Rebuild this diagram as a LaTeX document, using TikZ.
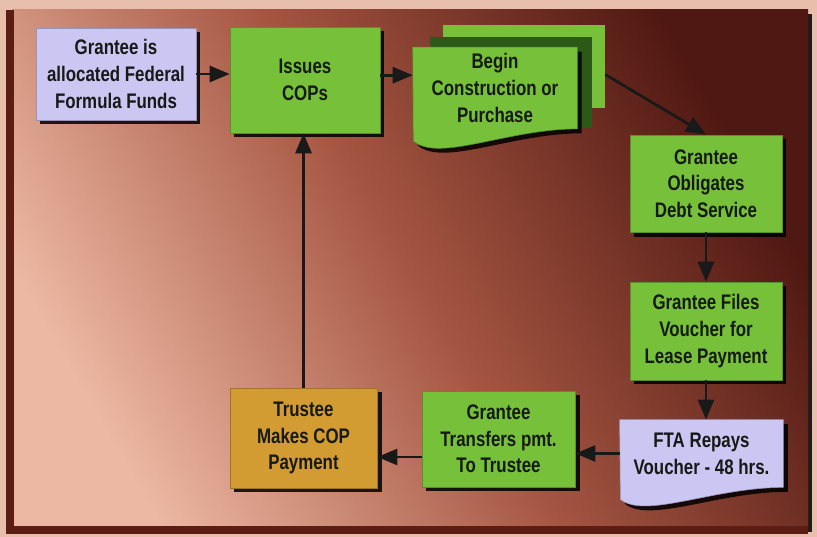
\documentclass[tikz,border=0pt]{standalone}
\usepackage{fontspec}
\setmainfont[FakeStretch=0.8]{Liberation Sans}
\usepackage{tikz}
\usetikzlibrary{positioning,arrows.meta,shadows,backgrounds}

\definecolor{boxGreen}{RGB}{118,192,58}
\definecolor{boxLilac}{RGB}{204,198,242}
\definecolor{boxGold}{RGB}{210,156,50}
\definecolor{pageDark}{RGB}{44,88,24}
\definecolor{textDark}{RGB}{22,26,22}
\definecolor{panelLight}{RGB}{236,184,163}
\definecolor{panelMid}{RGB}{165,86,66}
\definecolor{panelDark}{RGB}{80,24,18}
\definecolor{frameLight}{RGB}{232,190,172}
\definecolor{frameDark}{RGB}{92,30,20}

\pgfdeclarelayer{background}
\pgfdeclarelayer{docs}
\pgfsetlayers{background,docs,main}

\begin{document}
\begin{tikzpicture}[
  x=0.025cm, y=-0.025cm,
  font=\fontsize{15}{19}\selectfont\bfseries,
  shade/.style={drop shadow={shadow xshift=1.1mm, shadow yshift=-1.1mm,
               fill=black, opacity=0.85}},
  box/.style={draw=#1!75!black, fill=#1, align=center, text=textDark,
              inner sep=2pt, shade},
  doctext/.style={align=center, text=textDark, inner sep=2pt},
  arr/.style={-{Triangle[length=5mm,width=4mm]}, line width=2pt, black!90},
]
\node[box=boxLilac, minimum width=4.0cm, minimum height=2.3cm] (grantee) at (116,74)
  {Grantee is\\allocated Federal\\Formula Funds};
\node[box=boxGreen, minimum width=3.75cm, minimum height=2.65cm] (issues) at (305,80)
  {Issues\\COPs};
\node[doctext, minimum width=4.1cm, minimum height=2.03cm] (begin) at (495,88)
  {Begin\\Construction or\\Purchase};
\node[box=boxGreen, minimum width=3.8cm, minimum height=2.43cm] (oblig) at (706,183.5)
  {Grantee\\Obligates\\Debt Service};
\node[box=boxGreen, minimum width=3.8cm, minimum height=2.45cm] (files) at (706,331)
  {Grantee Files\\Voucher for\\Lease Payment};
\node[doctext, minimum width=4.08cm, minimum height=1.68cm] (fta) at (701.5,453.5)
  {FTA Repays\\Voucher - 48 hrs.};
\node[box=boxGreen, minimum width=3.83cm, minimum height=2.4cm] (transfer) at (498.5,439)
  {Grantee\\Transfers pmt.\\To Trustee};
\node[box=boxGold, minimum width=3.68cm, minimum height=2.5cm] (trustee) at (303.5,438)
  {Trustee\\Makes COP\\Payment};

% document shapes
\begin{pgfonlayer}{docs}
\node[fill=boxGreen, minimum width=4.05cm, minimum height=2.08cm] (begin3) at (524,66.5) {};
\node[fill=pageDark, minimum width=4.05cm, minimum height=2.28cm] (begin2) at (511,82.5) {};
\fill[boxGreen, draw=boxGreen!75!black, shade] (begin.north west) -- (begin.north east)
  -- (begin.south east) .. controls +(-70,0) and +(25,22) .. ++(-164,12) -- cycle;
\fill[boxLilac, draw=boxLilac!75!black, shade] (fta.north west) -- (fta.north east)
  -- (fta.south east) .. controls +(-70,0) and +(25,20) .. ++(-163,12) -- cycle;
\end{pgfonlayer}

% frame and panel
\begin{pgfonlayer}{background}
\fill[frameLight] (0,0) rectangle (817,537);
\shade[shading=axis, top color=panelDark, bottom color=panelLight,
       middle color=panelMid, shading angle=-60] (12,10) rectangle (808,528);
\draw[frameDark, line width=5pt] (10,10) -- (10,530) -- (808,530);
\end{pgfonlayer}

\draw[arr] (grantee.east) -- (grantee.east -| issues.west);
\draw[arr] ([yshift=0.12cm]issues.east) -- ([yshift=0.12cm]issues.east -| begin.west);
\draw[arr] ([yshift=-0.2cm]begin3.east) -- (oblig.north);
\draw[arr] (oblig.south) -- (files.north);
\draw[arr] (files.south) -- (files.south |- fta.north);
\draw[arr] (fta.west) -- (fta.west -| transfer.east);
\draw[arr] ([yshift=-0.45cm]transfer.west) -- ([yshift=-0.45cm]transfer.west -| trustee.east);
\draw[arr] (trustee.north) -- (trustee.north |- issues.south);
\end{tikzpicture}
\end{document}
